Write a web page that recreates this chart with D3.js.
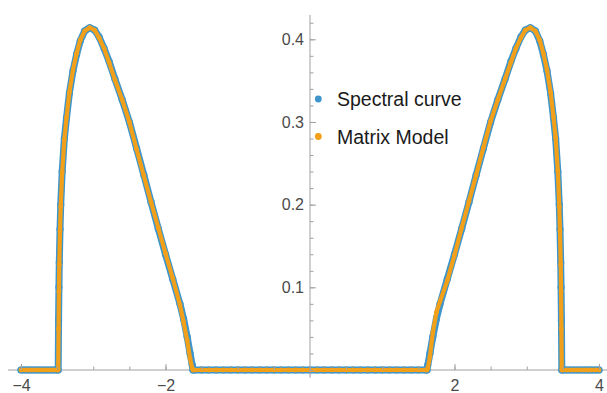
<!DOCTYPE html>
<html>
<head>
<meta charset="utf-8">
<script src="https://cdn.jsdelivr.net/npm/d3@7"></script>
<style>
  html, body { margin: 0; padding: 0; background: #fff; }
  svg { display: block; }
  text { font-family: "Liberation Sans", Arial, sans-serif; }
</style>
</head>
<body>
<svg id="chart" width="607" height="393"></svg>
<script>
// ---- data ----
const xValues = [
  -4.00,-3.95,-3.90,-3.85,-3.80,-3.75,-3.70,-3.65,-3.60,-3.55,-3.50,-3.485,
  -3.48,-3.475,-3.47,-3.46,-3.45,-3.43,-3.40,-3.37,-3.33,-3.28,-3.23,-3.18,-3.12,-3.05,-2.98,-2.92,-2.85,-2.78,-2.70,-2.60,-2.50,-2.40,-2.30,-2.20,-2.10,-2.00,-1.90,-1.80,-1.75,-1.70,-1.66,-1.63,-1.62,
  -1.60,-1.50,-1.40,-1.30,-1.20,-1.10,-1.00,-0.90,-0.80,-0.70,-0.60,-0.50,-0.40,-0.30,-0.20,-0.10,0.00,0.10,0.20,0.30,0.40,0.50,0.60,0.70,0.80,0.90,1.00,1.10,1.20,1.30,1.40,1.50,1.60,
  1.62,1.63,1.66,1.70,1.75,1.80,1.90,2.00,2.10,2.20,2.30,2.40,2.50,2.60,2.70,2.78,2.85,2.92,2.98,3.05,3.12,3.18,3.23,3.28,3.33,3.37,3.40,3.43,3.45,3.46,3.47,3.475,3.48,
  3.485,3.50,3.55,3.60,3.65,3.70,3.75,3.80,3.85,3.90,3.95,4.00
];
const spectralValues = [
  0,0,0,0,0,0,0,0,0,0,0,0,
  0.060,0.100,0.130,0.170,0.200,0.240,0.280,0.305,0.335,0.362,0.382,0.398,0.410,0.414,0.411,0.403,0.389,0.373,0.352,0.327,0.300,0.268,0.236,0.203,0.171,0.140,0.110,0.080,0.062,0.040,0.020,0.006,0,
  0,0,0,0,0,0,0,0,0,0,0,0,0,0,0,0,0,0,0,0,0,0,0,0,0,0,0,0,0,0,0,0,0,
  0,0.006,0.020,0.040,0.062,0.080,0.110,0.140,0.171,0.203,0.236,0.268,0.300,0.327,0.352,0.373,0.389,0.403,0.411,0.414,0.410,0.398,0.382,0.362,0.335,0.305,0.280,0.240,0.200,0.170,0.130,0.100,0.060,
  0,0,0,0,0,0,0,0,0,0,0,0
];
const matrixValues = [
  0,0,0,0,0,0,0,0,0,0,0,0,
  0.050,0.095,0.128,0.168,0.198,0.239,0.279,0.305,0.336,0.363,0.383,0.399,0.410,0.414,0.411,0.402,0.389,0.372,0.351,0.327,0.300,0.267,0.235,0.203,0.172,0.141,0.111,0.079,0.058,0.036,0.014,0.002,0,
  0,0,0,0,0,0,0,0,0,0,0,0,0,0,0,0,0,0,0,0,0,0,0,0,0,0,0,0,0,0,0,0,0,
  0,0.002,0.016,0.045,0.070,0.083,0.108,0.139,0.172,0.204,0.236,0.269,0.301,0.327,0.352,0.372,0.389,0.402,0.411,0.414,0.410,0.399,0.383,0.363,0.336,0.306,0.281,0.241,0.198,0.168,0.128,0.095,0.050,
  0,0,0,0,0,0,0,0,0,0,0,0
];
const xMajorTicks = [-4, -2, 2, 4];
const xMinorTicks = [-4,-3.5,-3,-2.5,-2,-1.5,-1,-0.5,0,0.5,1,1.5,2,2.5,3,3.5,4];
const yMajorTicks = [0.1, 0.2, 0.3, 0.4];
const yMinorTicks = [0,0.02,0.04,0.06,0.08,0.1,0.12,0.14,0.16,0.18,0.2,0.22,0.24,0.26,0.28,0.3,0.32,0.34,0.36,0.38,0.4,0.42];
const seriesNames = ["Spectral curve", "Matrix Model"];
const seriesColors = ["#3d95cc", "#f2a01a"];

// ---- scales ----
const svg = d3.select("#chart");
const x = d3.scaleLinear().domain([-4, 4]).range([21, 599]);
const y = d3.scaleLinear().domain([0, 0.4]).range([370, 39.3]);

const axisColor = "#a0a0a0";
const labelColor = "#4a4a4a";

// x axis line (beneath data)
svg.append("line")
  .attr("x1", x(-4.18)).attr("x2", x(4.2))
  .attr("y1", y(0)).attr("y2", y(0))
  .attr("stroke", axisColor).attr("stroke-width", 1);

// ---- data ----
const pts = (vals) => xValues.map((xv, i) => [xv, vals[i]]);
const line = d3.line().x(d => x(d[0])).y(d => y(d[1]));

const spec = pts(spectralValues);
const mat = pts(matrixValues);

svg.append("path").datum(spec)
  .attr("d", line).attr("fill", "none")
  .attr("stroke", seriesColors[0]).attr("stroke-width", 7)
  .attr("stroke-linejoin", "round").attr("stroke-linecap", "round");
svg.append("g").selectAll("circle").data(spec).join("circle")
  .attr("cx", d => x(d[0])).attr("cy", d => y(d[1])).attr("r", 3.6)
  .attr("fill", seriesColors[0]);

svg.append("path").datum(mat)
  .attr("d", line).attr("fill", "none")
  .attr("stroke", seriesColors[1]).attr("stroke-width", 4.2)
  .attr("stroke-linejoin", "round").attr("stroke-linecap", "round");
svg.append("g").selectAll("circle").data(mat).join("circle")
  .attr("cx", d => x(d[0])).attr("cy", d => y(d[1])).attr("r", 2.4)
  .attr("fill", seriesColors[1]);

// ---- axes (on top) ----
// y axis line
svg.append("line")
  .attr("x1", x(0)).attr("x2", x(0))
  .attr("y1", y(0.4295)).attr("y2", y(-0.0095))
  .attr("stroke", axisColor).attr("stroke-width", 1);

const fmtMinus = d => (d < 0 ? "\u2212" : "") + Math.abs(d);

// x minor ticks
const gxMinor = svg.append("g").attr("transform", `translate(0,${y(0)})`)
  .call(d3.axisBottom(x).tickValues(xMinorTicks).tickSizeInner(-3.5).tickSizeOuter(0).tickFormat(""));
// x major ticks with labels
const gxMajor = svg.append("g").attr("transform", `translate(0,${y(0)})`)
  .call(d3.axisBottom(x).tickValues(xMajorTicks).tickSizeInner(-6).tickSizeOuter(0).tickPadding(10).tickFormat(fmtMinus));

// y minor ticks
const gyMinor = svg.append("g").attr("transform", `translate(${x(0)},0)`)
  .call(d3.axisLeft(y).tickValues(yMinorTicks).tickSizeInner(-3.5).tickSizeOuter(0).tickFormat(""));
// y major ticks with labels
const gyMajor = svg.append("g").attr("transform", `translate(${x(0)},0)`)
  .call(d3.axisLeft(y).tickValues(yMajorTicks).tickSizeInner(-6).tickSizeOuter(0).tickPadding(6).tickFormat(d3.format(".1f")));

[gxMinor, gxMajor, gyMinor, gyMajor].forEach(g => {
  g.select(".domain").remove();
  g.selectAll(".tick line").attr("stroke", axisColor).attr("stroke-width", 1);
  g.selectAll(".tick text")
    .attr("fill", labelColor)
    .style("font-size", "16px")
    .style("font-family", '"Liberation Sans", Arial, sans-serif');
});

// ---- legend ----
const legend = svg.append("g");
const legendY = [99, 136.5];
seriesNames.forEach((name, i) => {
  legend.append("circle").attr("cx", 318.3).attr("cy", legendY[i]).attr("r", 3.4)
    .attr("fill", seriesColors[i]);
  legend.append("text").attr("x", 337).attr("y", legendY[i]).attr("dy", "0.36em")
    .attr("fill", "#1a1a1a")
    .style("font-size", "19.5px")
    .text(name);
});
</script>
</body>
</html>
